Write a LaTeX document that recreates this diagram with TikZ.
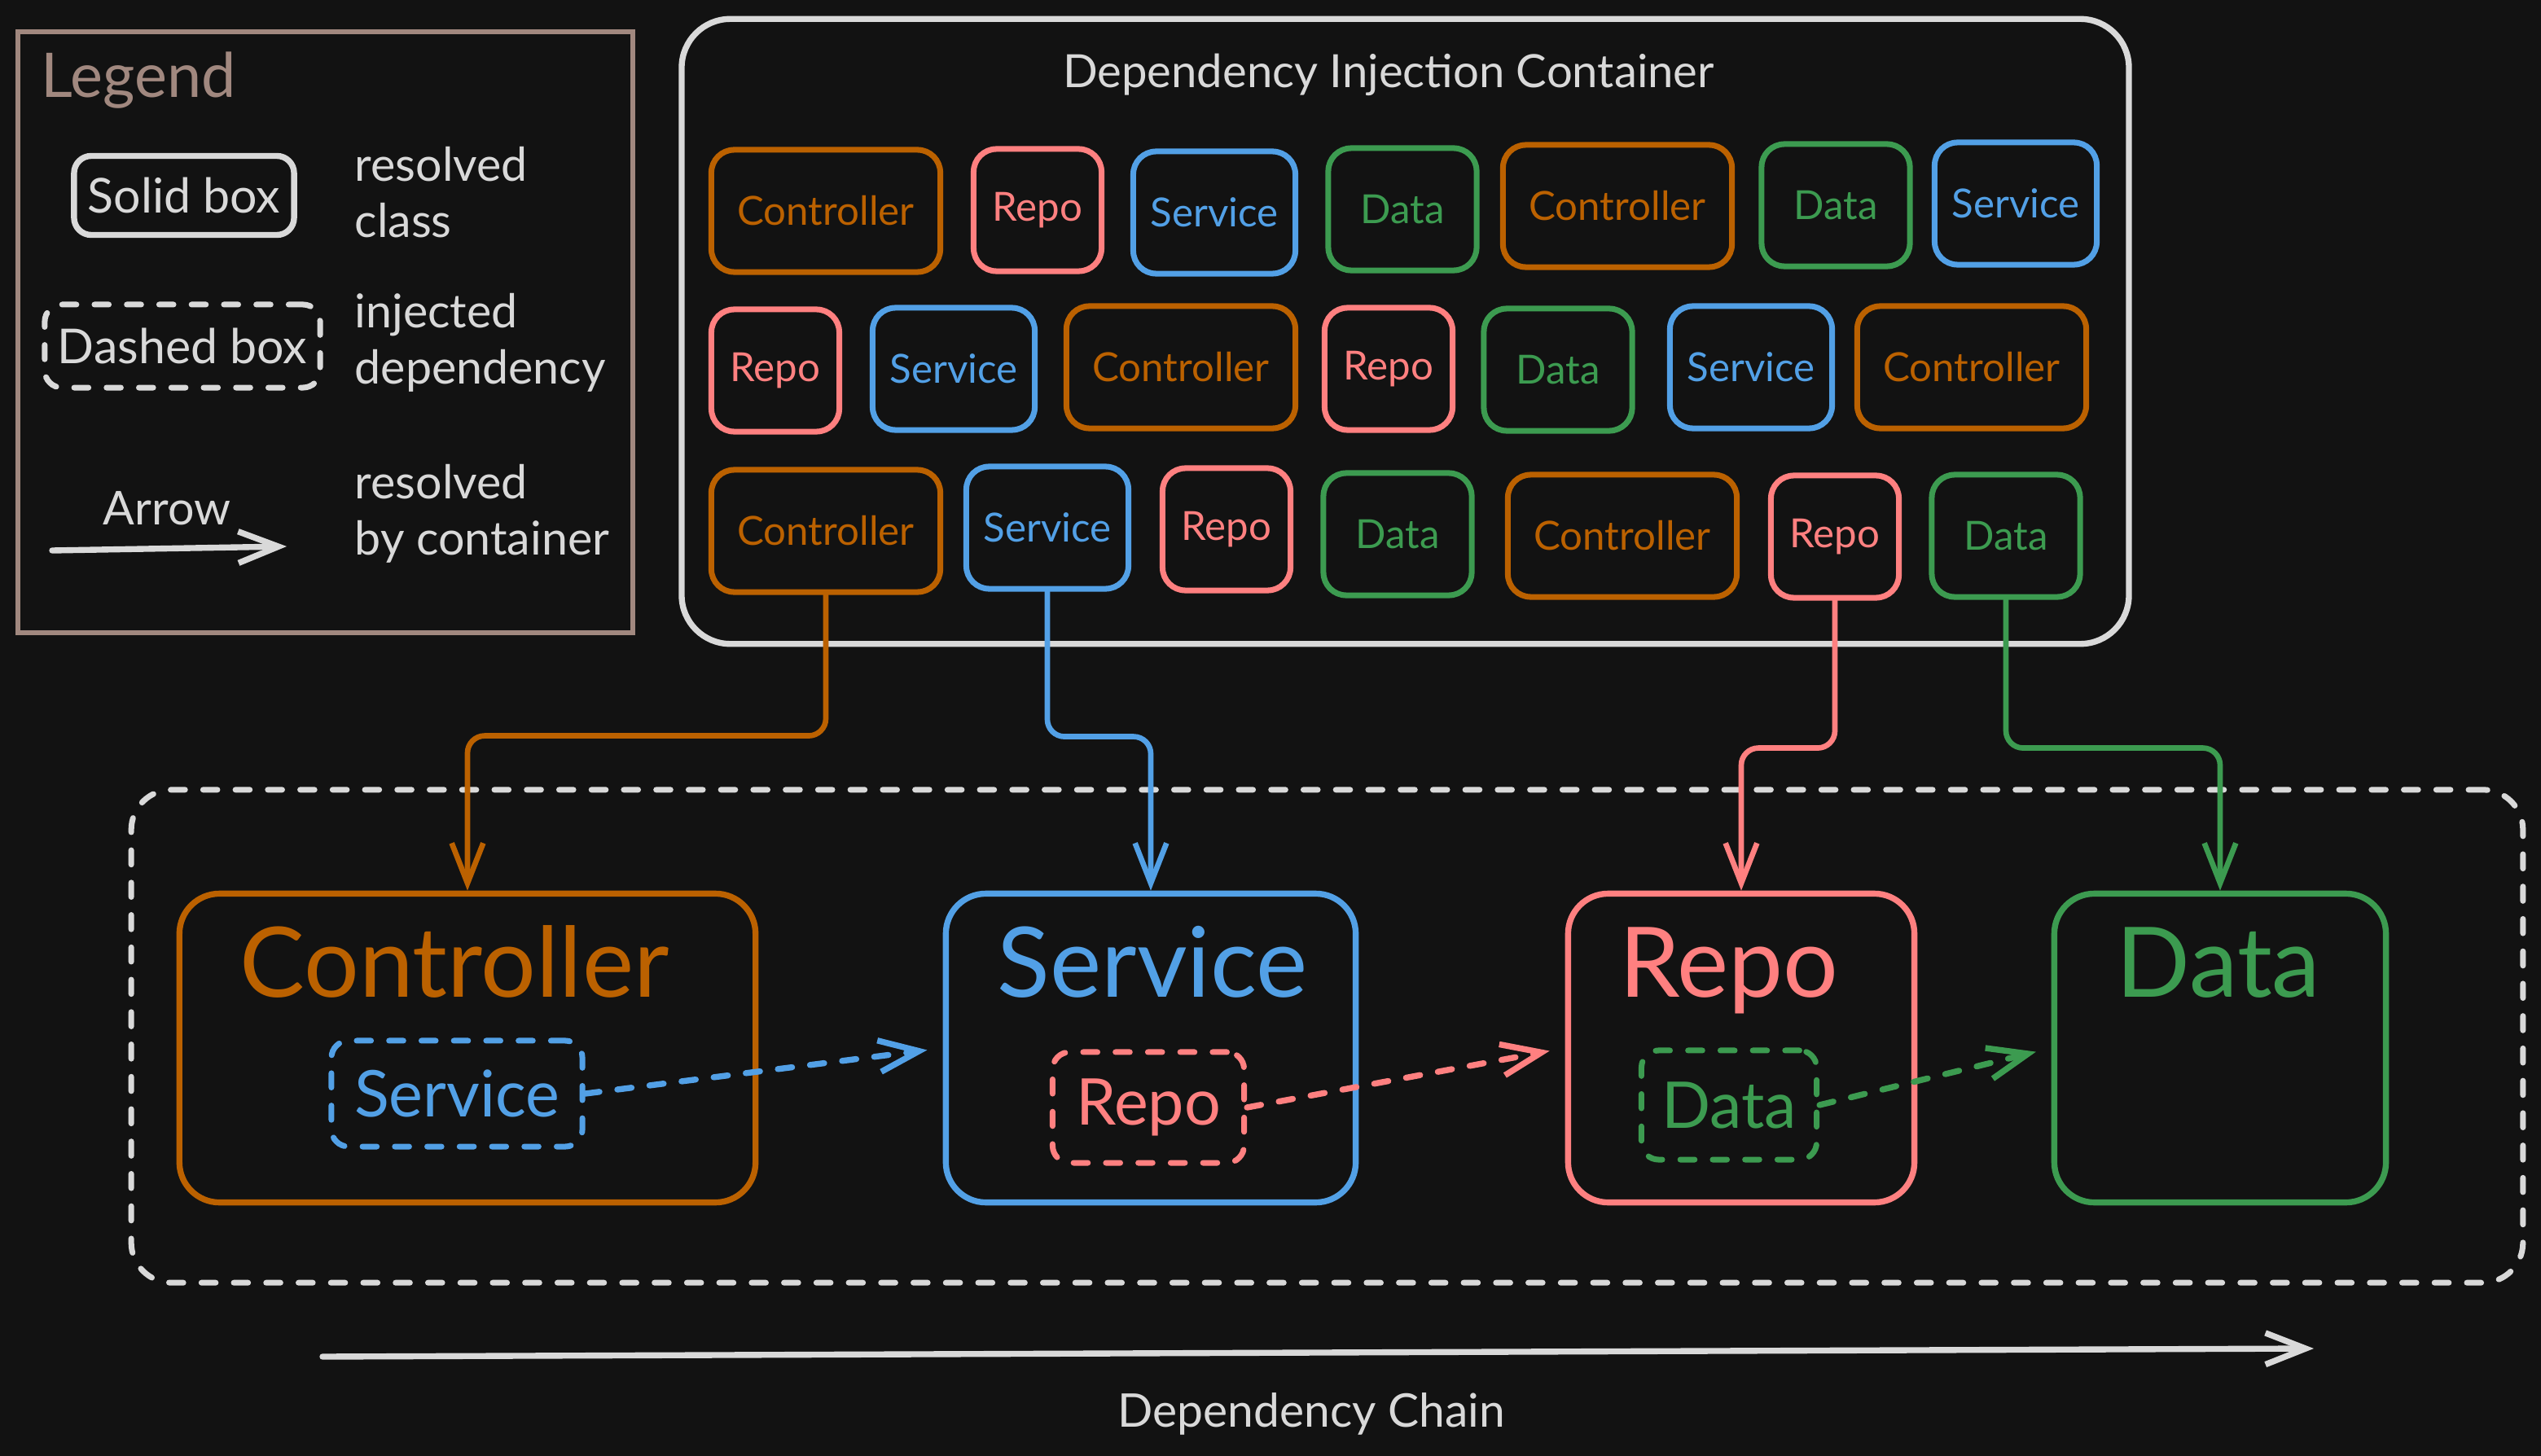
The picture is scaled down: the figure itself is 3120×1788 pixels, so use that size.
\documentclass[tikz,border=0pt]{standalone}
\usepackage{fontspec}
\setmainfont{Lato}
\usetikzlibrary{arrows.meta, positioning}
\definecolor{bgc}{RGB}{18,18,18}
\definecolor{cgrey}{RGB}{217,217,217}
\definecolor{cleg}{RGB}{161,136,127}
\definecolor{cctrl}{RGB}{187,97,0}
\definecolor{cserv}{RGB}{82,160,230}
\definecolor{crepo}{RGB}{255,128,128}
\definecolor{cdata}{RGB}{60,155,80}

\begin{document}
\begin{tikzpicture}[x=0.01cm, y=-0.01cm,
  >={Straight Barb[length=14pt, width=11pt]},
  pill/.style={draw=#1, text=#1, line width=2pt, rounded corners=8pt, inner sep=0pt,
               minimum height=1.5cm, font=\fontsize{14}{16}\selectfont},
  ctrlbox/.style={pill=cctrl, minimum width=2.81cm},
  servbox/.style={pill=cserv, minimum width=1.99cm},
  repobox/.style={pill=crepo, minimum width=1.57cm},
  databox/.style={pill=cdata, minimum width=1.82cm},
  bigbox/.style={draw=#1, line width=2.1pt, rounded corners=14pt, minimum height=3.79cm},
  bigtxt/.style={text=#1, anchor=base, inner sep=0pt, font=\fontsize{34}{40}\selectfont},
  dsh/.style={dash pattern=on 5pt off 6.3pt, line cap=round},
  inj/.style={draw=#1, text=#1, dsh, line width=2pt, rounded corners=6pt, inner sep=0pt,
              font=\fontsize{22.5}{26}\selectfont},
  wire/.style={->, draw=#1, line width=1.9pt, line cap=round, rounded corners=6pt},
  txt/.style={text=cgrey, inner sep=0pt, align=left, font=\fontsize{16.3}{19.6}\selectfont}]
\path[use as bounding box, fill=bgc] (0,0) rectangle (3120,1788);

\node[draw=cleg, line width=1.8pt, minimum width=7.55cm, minimum height=7.38cm] (leg) at (399.5,408) {};
\node[text=cleg, anchor=base west, inner sep=0pt, font=\fontsize{21.5}{25}\selectfont] (legT) at (50,120) {Legend};
\node[draw=cgrey, text=cgrey, line width=2.1pt, rounded corners=6pt, inner sep=0pt,
      minimum width=2.7cm, minimum height=0.97cm, font=\fontsize{16.8}{19}\selectfont] (sol) at (226,240) {Solid box};
\node[inj=cgrey, minimum width=3.38cm, minimum height=1.02cm, font=\fontsize{16.8}{19}\selectfont] (das) at (224,425) {Dashed box};
\node[txt, anchor=west] (solT) at (435,236) {resolved\\class};
\node[txt, anchor=west] (dasT) at (435,421) {injected\\dependency};
\node[txt, anchor=west] (arrT) at (435,631) {resolved\\by container};
\coordinate (la) at (64,676);
\coordinate (lb) at (352,671);
\draw[->, cgrey, line width=2.1pt, line cap=round] (la) -- (lb);
\node[txt, anchor=base] (arr) at (205,644) {Arrow};

\node[draw=cgrey, line width=2.1pt, rounded corners=17pt, minimum width=17.76cm, minimum height=7.67cm] (dic) at (1725.5,407) {};
\node[txt, anchor=base, font=\fontsize{16}{19}\selectfont] (dicT) at (1705,108) {Dependency Injection Container};
\foreach \n/\s/\l/\x/\y in {a1/ctrlbox/Controller/1014/259, a2/repobox/Repo/1274/258, a3/servbox/Service/1491/261,
    a4/databox/Data/1722/257, a5/ctrlbox/Controller/1986/253, a6/databox/Data/2254/252, a7/servbox/Service/2475/250}
  \node[\s] (\n) at (\x,\y) {\l};
\foreach \n/\s/\l/\x/\y in {b1/repobox/Repo/952/455, b2/servbox/Service/1171/453, b3/ctrlbox/Controller/1450/451,
    b4/repobox/Repo/1705/453, b5/databox/Data/1913/454, b6/servbox/Service/2150/451, b7/ctrlbox/Controller/2421/451}
  \node[\s] (\n) at (\x,\y) {\l};
\foreach \n/\s/\l/\x/\y in {c1/ctrlbox/Controller/1014/652, c2/servbox/Service/1286/648, c3/repobox/Repo/1506/650,
    c4/databox/Data/1716/656, c5/ctrlbox/Controller/1992/658, c6/repobox/Repo/2253/659, c7/databox/Data/2463/658}
  \node[\s] (\n) at (\x,\y) {\l};

\node[draw=cgrey, dsh, line width=2pt, rounded corners=14pt, minimum width=29.35cm, minimum height=6.05cm] (chain) at (1629.5,1272.5) {};
\node[bigbox=cctrl, minimum width=7.07cm] (ctrl) at (574,1287) {};
\node[bigbox=cserv, minimum width=5.03cm] (serv) at (1413,1287) {};
\node[bigbox=crepo, minimum width=4.25cm] (repo) at (2138,1287) {};
\node[bigbox=cdata, minimum width=4.07cm] (data) at (2726,1287) {};
\foreach \b/\c/\l/\s in {ctrl/cctrl/Controller/-16, serv/cserv/Service/2, repo/crepo/Repo/-15, data/cdata/Data/-2}
  \node[bigtxt=\c] (\b T) at ([xshift=\s*0.01cm, yshift=-1.31cm]\b.north) {\l};
\node[inj=cserv, minimum width=3.08cm, minimum height=1.30cm] (injS) at (561,1343) {Service};
\node[inj=crepo, minimum width=2.35cm, minimum height=1.36cm] (injR) at (1410,1360) {Repo};
\node[inj=cdata, minimum width=2.15cm, minimum height=1.34cm] (injD) at (2123,1357) {Data};

\foreach \a/\b/\c/\h in {c1/ctrl/cctrl/173, c2/serv/cserv/178, c6/repo/crepo/181, c7/data/cdata/182}
  \draw[wire=\c] (\a.south) -- ++(0,\h) -| (\b.north);
\foreach \a/\b/\c in {injS/serv/cserv, injR/repo/crepo, injD/data/cdata}
  \draw[->, \c, dsh, line width=2.1pt, shorten >=5.5pt] (\a.east) -- (\b.west);

\coordinate (ch1) at (396,1666);
\coordinate (ch2) at (2841,1656);
\draw[->, cgrey, line width=2.1pt, line cap=round] (ch1) -- (ch2);
\node[txt, anchor=base, font=\fontsize{16.2}{19}\selectfont] (chT) at (1610,1752) {Dependency Chain};
\end{tikzpicture}
\end{document}
